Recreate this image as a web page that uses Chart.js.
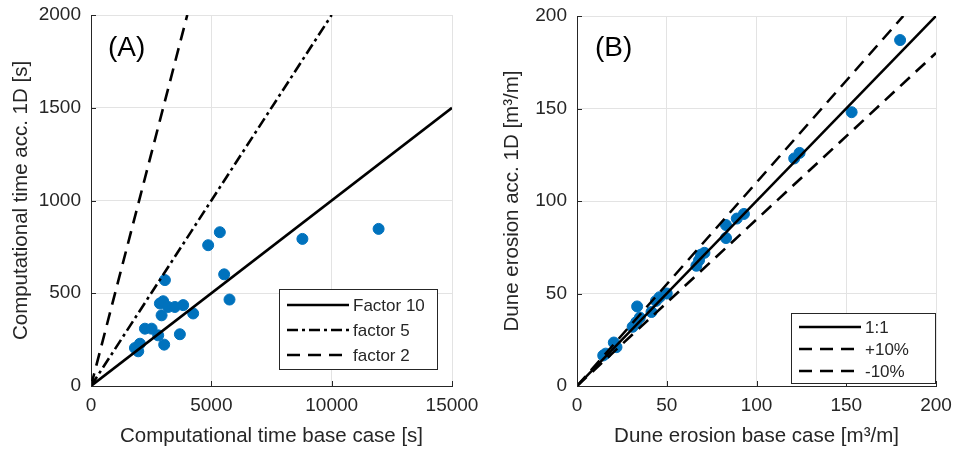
<!DOCTYPE html>
<html>
<head>
<meta charset="utf-8">
<script src="https://cdn.jsdelivr.net/npm/chart.js@4/dist/chart.umd.min.js"></script>
<style>
  body { margin: 0; background: #fff; }
  .wrap { position: absolute; top: 0; width: 480px; height: 459px; }
</style>
</head>
<body>
<div class="wrap" style="left:0"><canvas id="chartA" width="480" height="459"></canvas></div>
<div class="wrap" style="left:480px"><canvas id="chartB" width="480" height="459"></canvas></div>
<script>
// panel A: computational time
const aBaseTime = [1826, 1963, 2033, 2241, 2519, 2793, 2933, 3041, 3693, 2863, 2999, 3208, 3485, 3830, 4245, 3071, 4868, 5353, 5533, 5755, 8784, 11950];
const a1DTime   = [205, 187, 228, 309, 309, 273, 381, 223, 279, 445, 457, 426, 426, 436, 391, 571, 759, 829, 602, 466, 793, 847];
const aLineX = { f10: [0, 15000], f5: [0, 10000], f2: [0, 4000] };
const aLineY = { f10: [0, 1500], f5: [0, 2000], f2: [0, 2000] };
const aTicksX = [0, 5000, 10000, 15000];
const aTicksY = [0, 500, 1000, 1500, 2000];

// panel B: dune erosion
const bBase = [14.6, 16, 20.5, 22, 31, 33, 33.5, 35, 41.5, 44, 46, 50, 66.5, 68, 69, 71, 83, 83, 89, 93, 121, 124, 153, 180];
const b1D   = [16.5, 17.5, 23.5, 21, 32, 34.5, 43, 37, 40, 46, 48, 50, 65, 68, 71, 72, 80, 87, 90.5, 93, 123, 126, 148, 187];
const bLineX = { one: [0, 200], plus: [0, 181.8], minus: [0, 200] };
const bLineY = { one: [0, 200], plus: [0, 200], minus: [0, 180] };
const bTicks = [0, 50, 100, 150, 200];

const FONT = "'Liberation Sans', Arial, sans-serif";
const TXT = "#262626";
const BLUE = "#0072BD";

function pts(xs, ys) {
    return xs.map((x, i) => ({ x: x, y: ys[i] }));
}

function lineSet(label, xs, ys, dash) {
    return {
        label: label,
        data: pts(xs, ys),
        showLine: true,
        borderColor: "#000",
        borderWidth: 2.6,
        borderDash: dash,
        pointRadius: 0,
        fill: false
    };
}

// legend drawn by hand so the dash patterns show like the original
function boxLegend(id, box, items) {
    return {
        id: id,
        afterDraw(chart) {
            const c = chart.ctx;
            c.save();
            c.fillStyle = "#fff";
            c.fillRect(box.x, box.y, box.w, box.h);
            c.strokeStyle = TXT;
            c.lineWidth = 1;
            c.strokeRect(box.x + 0.5, box.y + 0.5, box.w, box.h);
            items.forEach((it, i) => {
                const y = box.y + box.row0 + i * box.step;
                c.setLineDash(it.dash);
                c.strokeStyle = "#000";
                c.lineWidth = 2.6;
                c.beginPath();
                c.moveTo(box.x + 8, y);
                c.lineTo(box.x + box.lineLen, y);
                c.stroke();
                c.setLineDash([]);
                c.fillStyle = TXT;
                c.font = "17px " + FONT;
                c.textBaseline = "middle";
                c.fillText(it.text, box.x + box.lineLen + 4, y + 1);
            });
            c.restore();
        }
    };
}

function panelLabel(id, text, x, y) {
    return {
        id: id,
        afterDraw(chart) {
            const c = chart.ctx;
            c.save();
            c.fillStyle = "#000";
            c.font = "28px " + FONT;
            c.textBaseline = "middle";
            c.fillText(text, x, y);
            c.restore();
        }
    };
}

// matlab style inward ticks
const innerTicks = {
    id: "innerTicks",
    afterDatasetsDraw(chart) {
        const c = chart.ctx;
        const xs = chart.scales.x, ys = chart.scales.y;
        c.save();
        c.strokeStyle = TXT;
        c.lineWidth = 1;
        xs.ticks.forEach(t => {
            const px = Math.round(xs.getPixelForValue(t.value)) + 0.5;
            c.beginPath();
            c.moveTo(px, ys.bottom);
            c.lineTo(px, ys.bottom - 5);
            c.stroke();
        });
        ys.ticks.forEach(t => {
            const py = Math.round(ys.getPixelForValue(t.value)) + 0.5;
            c.beginPath();
            c.moveTo(xs.left, py);
            c.lineTo(xs.left + 5, py);
            c.stroke();
        });
        c.restore();
    }
};

function scaleOpts(min, max, tickVals, title, fixSize, isY, titlePad) {
    return {
        type: "linear",
        min: min,
        max: max,
        afterBuildTicks: s => { s.ticks = tickVals.map(v => ({ value: v })); },
        afterFit: s => {
            if (isY) {
                s.width = fixSize;
                s.paddingTop = 0;
                s.paddingBottom = 0;
            } else {
                s.height = fixSize;
                s.paddingLeft = 0;
                s.paddingRight = 0;
            }
        },
        grid: { color: "#e3e3e3", lineWidth: 1, drawTicks: false },
        border: { color: TXT, width: 1 },
        ticks: {
            color: TXT,
            font: { family: FONT, size: 19 },
            padding: isY ? 10 : 8,
            maxRotation: 0,
            callback: v => String(v)
        },
        title: {
            display: true,
            text: title,
            color: TXT,
            font: { family: FONT, size: 20.5 },
            padding: titlePad
        }
    };
}

Chart.defaults.animation = false;

new Chart(document.getElementById("chartA").getContext("2d"), {
    type: "scatter",
    data: {
        datasets: [
            lineSet("Factor 10", aLineX.f10, aLineY.f10, []),
            lineSet("factor 5", aLineX.f5, aLineY.f5, [11, 4, 3, 4]),
            lineSet("factor 2", aLineX.f2, aLineY.f2, [13, 8]),
            {
                label: "data",
                data: pts(aBaseTime, a1DTime),
                backgroundColor: BLUE,
                borderColor: BLUE,
                pointRadius: 5.5,
                pointHoverRadius: 5.5
            }
        ]
    },
    options: {
        responsive: false,
        layout: { padding: { top: 15, right: 28, left: 0, bottom: 0 } },
        plugins: { legend: { display: false }, tooltip: { enabled: false } },
        scales: {
            x: scaleOpts(0, 15000, aTicksX, "Computational time base case [s]", 73, false, { top: 4, bottom: 10 }),
            y: scaleOpts(0, 2000, aTicksY, "Computational time acc. 1D [s]", 91, true, { top: 9, bottom: 0 })
        }
    },
    plugins: [
        innerTicks,
        panelLabel("labA", "(A)", 108, 48),
        boxLegend("legA", { x: 279, y: 289, w: 158, h: 80, row0: 16, step: 25, lineLen: 70 }, [
            { text: "Factor 10", dash: [] },
            { text: "factor 5", dash: [11, 4, 3, 4] },
            { text: "factor 2", dash: [13, 8] }
        ])
    ]
});

new Chart(document.getElementById("chartB").getContext("2d"), {
    type: "scatter",
    data: {
        datasets: [
            lineSet("1:1", bLineX.one, bLineY.one, []),
            lineSet("+10%", bLineX.plus, bLineY.plus, [13, 8]),
            lineSet("-10%", bLineX.minus, bLineY.minus, [13, 8]),
            {
                label: "data",
                data: pts(bBase, b1D),
                backgroundColor: BLUE,
                borderColor: BLUE,
                pointRadius: 5.5,
                pointHoverRadius: 5.5
            }
        ]
    },
    options: {
        responsive: false,
        layout: { padding: { top: 16, right: 24, left: 0, bottom: 0 } },
        plugins: { legend: { display: false }, tooltip: { enabled: false } },
        scales: {
            x: scaleOpts(0, 200, bTicks, "Dune erosion base case [m³/m]", 73, false, { top: 4, bottom: 10 }),
            y: scaleOpts(0, 200, bTicks, "Dune erosion acc. 1D [m³/m]", 97, true, { top: 20, bottom: 0 })
        }
    },
    plugins: [
        innerTicks,
        panelLabel("labB", "(B)", 115, 48),
        boxLegend("legB", { x: 311, y: 313, w: 144, h: 70, row0: 14, step: 22, lineLen: 70 }, [
            { text: "1:1", dash: [] },
            { text: "+10%", dash: [13, 8] },
            { text: "-10%", dash: [13, 8] }
        ])
    ]
});
</script>
</body>
</html>
